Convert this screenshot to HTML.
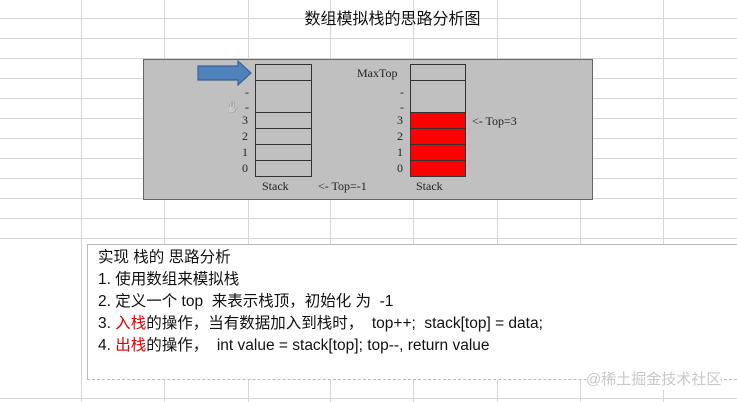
<!DOCTYPE html>
<html><head><meta charset="utf-8"><style>
html,body{margin:0;padding:0;width:737px;height:402px;overflow:hidden;background:#fff;position:relative;font-family:"Liberation Sans","Noto Sans CJK SC",sans-serif}
.a{position:absolute}
.s{font-family:"Liberation Serif",serif;font-size:12px;color:#222;position:absolute;line-height:12px}
.c{position:absolute;border:1px solid #333;box-sizing:border-box}
.t{position:absolute;left:98px;font-size:15.5px;line-height:20px;color:#111;white-space:nowrap}
.r{color:#e00000}
</style></head><body>
<svg class="a" style="left:0;top:0" width="737" height="402">
<g stroke="#d6d6d6" stroke-width="1">
<line x1="81.5" y1="0" x2="81.5" y2="402"/><line x1="164.5" y1="0" x2="164.5" y2="402"/><line x1="248.5" y1="0" x2="248.5" y2="402"/><line x1="330.5" y1="0" x2="330.5" y2="402"/><line x1="413.5" y1="0" x2="413.5" y2="402"/><line x1="497.5" y1="0" x2="497.5" y2="402"/><line x1="580.5" y1="0" x2="580.5" y2="402"/><line x1="663.5" y1="0" x2="663.5" y2="402"/>
<line x1="0" y1="18.5" x2="737" y2="18.5"/><line x1="0" y1="38.5" x2="737" y2="38.5"/><line x1="0" y1="58.5" x2="737" y2="58.5"/><line x1="0" y1="78.5" x2="737" y2="78.5"/><line x1="0" y1="98.5" x2="737" y2="98.5"/><line x1="0" y1="118.5" x2="737" y2="118.5"/><line x1="0" y1="138.5" x2="737" y2="138.5"/><line x1="0" y1="158.5" x2="737" y2="158.5"/><line x1="0" y1="178.5" x2="737" y2="178.5"/><line x1="0" y1="198.5" x2="737" y2="198.5"/><line x1="0" y1="218.5" x2="737" y2="218.5"/><line x1="0" y1="238.5" x2="737" y2="238.5"/><line x1="0" y1="398.5" x2="737" y2="398.5"/>
</g>
</svg>
<div class="a" style="left:0;width:737px;top:10px;text-align:center;font-size:16px;line-height:20px;color:#111;padding-left:48px;box-sizing:border-box">数组模拟栈的思路分析图</div>
<div class="a" style="left:143px;top:59px;width:450px;height:141px;background:#c0c0c0;border:1px solid #666;box-sizing:border-box"></div>
<svg class="a" style="left:196px;top:60px" width="60" height="26"><path d="M2 6 H42 V1 L55 13 L42 25 V20 H2 Z" fill="#4f81bd" stroke="#3a6296" stroke-width="1.2"/></svg>
<div class="c" style="left:255px;top:64px;width:57px;height:17px"></div>
<div class="c" style="left:255px;top:80px;width:57px;height:33px"></div>
<div class="c" style="left:255px;top:112px;width:57px;height:17px"></div>
<div class="c" style="left:255px;top:128px;width:57px;height:17px"></div>
<div class="c" style="left:255px;top:144px;width:57px;height:17px"></div>
<div class="c" style="left:255px;top:160px;width:57px;height:17px"></div>
<div class="c" style="left:410px;top:64px;width:56px;height:17px"></div>
<div class="c" style="left:410px;top:80px;width:56px;height:33px"></div>
<div class="c" style="left:410px;top:112px;width:56px;height:17px;background:#f00"></div>
<div class="c" style="left:410px;top:128px;width:56px;height:17px;background:#f00"></div>
<div class="c" style="left:410px;top:144px;width:56px;height:17px;background:#f00"></div>
<div class="c" style="left:410px;top:160px;width:56px;height:17px;background:#f00"></div>
<div class="s" style="left:245px;top:86px">-</div>
<div class="s" style="left:245px;top:101px">-</div>
<div class="s" style="left:242px;top:114px">3</div>
<div class="s" style="left:242px;top:130px">2</div>
<div class="s" style="left:242px;top:146px">1</div>
<div class="s" style="left:242px;top:162px">0</div>
<div class="s" style="left:225px;top:101px;font-size:12px;color:#666;filter:grayscale(1)">✋</div>
<div class="s" style="left:262px;top:180px">Stack</div>
<div class="s" style="left:318px;top:180px">&lt;- Top=-1</div>
<div class="s" style="left:357px;top:67px">MaxTop</div>
<div class="s" style="left:400px;top:86px">-</div>
<div class="s" style="left:400px;top:101px">-</div>
<div class="s" style="left:397px;top:114px">3</div>
<div class="s" style="left:397px;top:130px">2</div>
<div class="s" style="left:397px;top:146px">1</div>
<div class="s" style="left:397px;top:162px">0</div>
<div class="s" style="left:416px;top:180px">Stack</div>
<div class="s" style="left:472px;top:115px">&lt;- Top=3</div>
<div class="a" style="left:87px;top:244px;width:660px;height:136px;background:#fff;border:1px solid #bbb;border-bottom:1px dashed #bbb;box-sizing:border-box"></div>
<div class="t" style="top:248px">实现 栈的 思路分析</div>
<div class="t" style="top:270px">1. 使用数组来模拟栈</div>
<div class="t" style="top:292px">2. 定义一个 top&nbsp; 来表示栈顶，初始化 为&nbsp; -1</div>
<div class="t" style="top:314px">3. <span class="r">入栈</span>的操作，当有数据加入到栈时，&nbsp; top++;&nbsp; stack[top] = data;</div>
<div class="t" style="top:336px">4. <span class="r">出栈</span>的操作，&nbsp; int value = stack[top]; top--, return value</div>
<div class="a" style="left:586px;top:370px;font-size:15px;color:#c8c8c8;line-height:20px;background:#fff">@稀土掘金技术社区</div>
</body></html>
